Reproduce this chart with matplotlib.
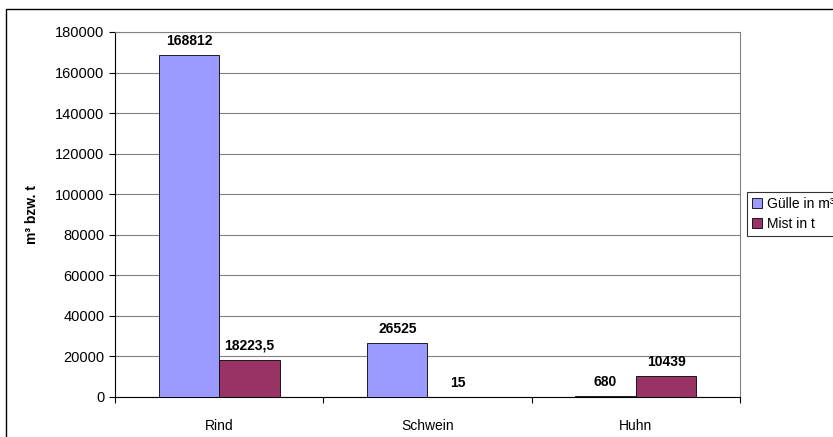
import numpy as np
import matplotlib.pyplot as plt
from matplotlib.lines import Line2D

plt.rcParams['font.family'] = ['Liberation Sans', 'DejaVu Sans']

categories = ["Rind", "Schwein", "Huhn"]
guelle = [168812, 26525, 680]
mist = [18223.5, 15, 10439]
guelle_labels = ["168812", "26525", "680"]
mist_labels = ["18223,5", "15", "10439"]

W, H = 833, 437
fig = plt.figure(figsize=(W / 100, H / 100), dpi=100)
# outer chart frame: only top and left edges are visible
fig.lines.append(Line2D([6 / W, 6 / W, 1.0], [0.0, 1 - 9 / H, 1 - 9 / H],
                        transform=fig.transFigure, color="black", linewidth=1.0))
ax = fig.add_axes([115 / W, 1 - 397 / H, 625 / W, 365 / H])

x = np.arange(len(categories))
bw = 0.29
b1 = ax.bar(x - bw / 2, guelle, bw, color="#9999FF", edgecolor="black",
            linewidth=0.6, label="Gülle in m³", zorder=3)
b2 = ax.bar(x + bw / 2, mist, bw, color="#993366", edgecolor="black",
            linewidth=0.6, label="Mist in t", zorder=3)
for bars, labels in [(b1, guelle_labels), (b2, mist_labels)]:
    for rect, lab in zip(bars, labels):
        ax.text(rect.get_x() + rect.get_width() / 2, rect.get_height() + 3500, lab,
                ha="center", va="bottom", fontsize=10, fontweight="bold")

ax.set_xlim(-0.5, 2.5)
ax.set_ylim(0, 180000)
ax.set_yticks(np.arange(0, 180001, 20000))
ax.tick_params(axis="y", labelsize=10.5, length=4, width=0.8, direction="out")
ax.set_xticks([-0.5, 0.5, 1.5, 2.5])
ax.set_xticklabels([])
ax.tick_params(axis="x", length=4, width=0.8, direction="out")
ax.set_xticks(x, minor=True)
ax.set_xticklabels(categories, minor=True, fontsize=10)
ax.tick_params(axis="x", which="minor", length=0, pad=16)
ax.grid(axis="y", color="#808080", linewidth=0.8, zorder=0)
for s in ["top", "right"]:
    ax.spines[s].set_color("#808080")
ax.set_ylabel("m³ bzw. t", fontsize=10, fontweight="bold", labelpad=12)

leg = fig.legend(loc="upper left", bbox_to_anchor=(747 / W, 1 - 192 / H),
                 fontsize=10, frameon=True, fancybox=False, handlelength=0.7,
                 handleheight=0.7, handletextpad=0.4, borderpad=0.35,
                 labelspacing=0.45, borderaxespad=0)
leg.get_frame().set_edgecolor("black")
leg.get_frame().set_linewidth(0.8)

fig.savefig("out.png", dpi=100)
